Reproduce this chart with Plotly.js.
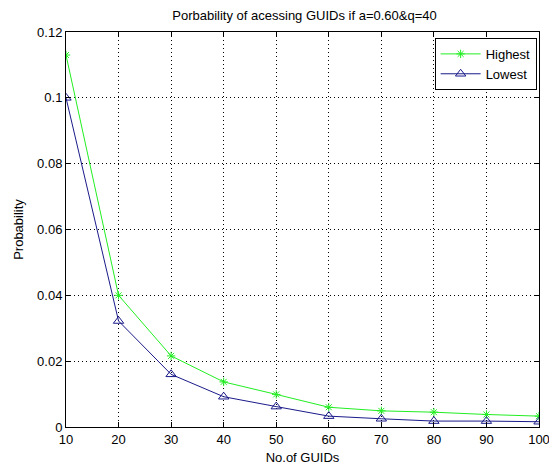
<!DOCTYPE html>
<html>
<head>
<script src="https://cdn.plot.ly/plotly-3.0.1.min.js"></script>
<style>html,body{margin:0;padding:0;background:#fff;}#chart{width:549px;height:470px;}</style>
</head>
<body>
<div id="chart"></div>
<script>
var guids = [10, 20, 30, 40, 50, 60, 70, 80, 90, 100];
var highest = [0.1130, 0.0400, 0.0216, 0.0137, 0.0099, 0.0060, 0.0049, 0.0045, 0.0038, 0.0033];
var lowest = [0.1000, 0.0322, 0.0160, 0.0092, 0.0062, 0.0033, 0.0025, 0.0018, 0.0018, 0.0016];
var xTicks = [10, 20, 30, 40, 50, 60, 70, 80, 90, 100];
var yTicks = [0, 0.02, 0.04, 0.06, 0.08, 0.1, 0.12];
var yTickText = ['0', '0.02', '0.04', '0.06', '0.08', '0.1', '0.12'];

var traces = [
  {x: guids, y: highest, name: 'Highest', type: 'scatter', mode: 'lines+markers',
   line: {color: '#22ee22', width: 1}, marker: {symbol: 'asterisk-open', size: 7, color: '#22ee22', line: {color: '#22ee22', width: 1}}},
  {x: guids, y: lowest, name: 'Lowest', type: 'scatter', mode: 'lines+markers',
   line: {color: '#1a1a8a', width: 1}, marker: {symbol: 'triangle-up-open', size: 9, color: '#1a1a8a', line: {color: '#1a1a8a', width: 1}}}
];

var axisCommon = {
  showline: true, linecolor: '#000', linewidth: 1, mirror: 'ticks',
  ticks: 'inside', ticklen: 5, tickcolor: '#000',
  showgrid: true, gridcolor: '#000', griddash: '1px,3px', gridwidth: 1,
  zeroline: false, ticklabeloverflow: 'allow',
  tickfont: {family: 'Liberation Sans, Arial, sans-serif', size: 13, color: '#000'}
};

var layout = {
  width: 549, height: 470,
  margin: {l: 66, r: 10, t: 32, b: 43},
  paper_bgcolor: '#fff', plot_bgcolor: '#fff',
  font: {family: 'Liberation Sans, Arial, sans-serif', size: 12, color: '#000'},
  title: {text: 'Porbability of acessing GUIDs if a=0.60&q=40', x: 0.5547, xanchor: 'center', y: 0.968, yanchor: 'middle',
          font: {size: 13, color: '#000'}},
  xaxis: Object.assign({}, axisCommon, {range: [10, 100], tickvals: xTicks, ticktext: xTicks.map(String),
          title: {text: 'No.of GUIDs', standoff: 7, font: {size: 13}}}),
  yaxis: Object.assign({}, axisCommon, {range: [0, 0.12], tickvals: yTicks, ticktext: yTickText,
          title: {text: 'Probability', standoff: 10, font: {size: 13}}}),
  showlegend: true,
  legend: {x: 0.995, xanchor: 'right', y: 0.985, yanchor: 'top', bgcolor: '#fff', bordercolor: '#000', borderwidth: 1,
           font: {size: 13}, tracegroupgap: 2, itemwidth: 40}
};

Plotly.newPlot('chart', traces, layout, {displayModeBar: false, staticPlot: true});
</script>
</body>
</html>
